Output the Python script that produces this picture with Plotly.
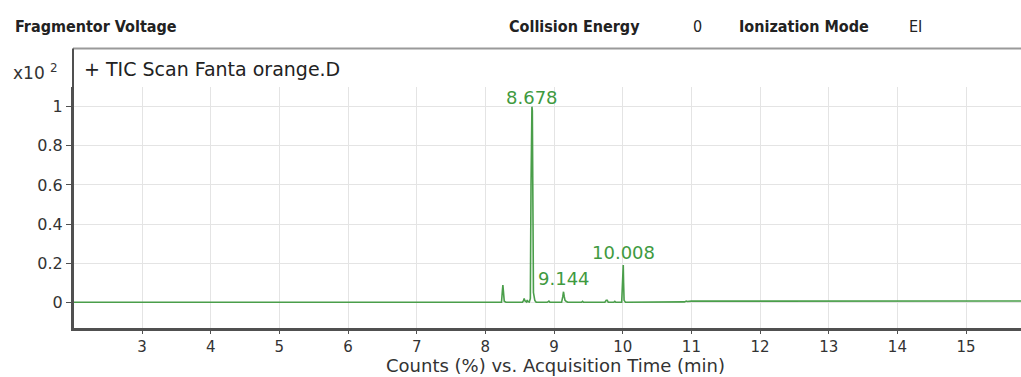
import plotly.graph_objects as go

# Chromatogram (TIC); counts in units of 10^2 (%)
time_min = [2.0, 8.20, 8.235, 8.248, 8.255, 8.262, 8.275, 8.30,
            8.54, 8.555, 8.565, 8.575, 8.60, 8.61, 8.62, 8.64,
            8.655, 8.665, 8.672, 8.678, 8.684, 8.692, 8.70, 8.72, 8.74,
            8.90, 8.915, 8.925, 8.94,
            9.11, 9.128, 9.138, 9.148, 9.16, 9.18, 9.20,
            9.40, 9.415, 9.43, 9.74, 9.76, 9.775, 9.79,
            9.87, 9.885, 9.90, 9.985, 9.998, 10.003, 10.008, 10.013, 10.02, 10.04,
            10.90, 10.925, 10.94, 11.0, 12.0, 15.8]
counts = [0.0, 0.0, 0.0, 0.06, 0.088, 0.06, 0.005, 0.0,
          0.0, 0.008, 0.02, 0.008, 0.002, 0.012, 0.004, 0.002,
          0.02, 0.6, 0.99, 1.0, 0.98, 0.5, 0.05, 0.01, 0.0,
          0.0, 0.006, 0.006, 0.0,
          0.0, 0.03, 0.054, 0.03, 0.01, 0.004, 0.0,
          0.0, 0.005, 0.0, 0.0, 0.01, 0.01, 0.0,
          0.0, 0.005, 0.0, 0.0, 0.1, 0.19, 0.19, 0.1, 0.01, 0.0,
          0.002, 0.006, 0.004, 0.006, 0.007, 0.007]

peak_times = [8.678, 9.144, 10.008]
peak_labels = ["8.678", "9.144", "10.008"]
peak_label_y = [1.045, 0.12, 0.255]

x_ticks = [3, 4, 5, 6, 7, 8, 9, 10, 11, 12, 13, 14, 15]
x_ticktext = [str(v) for v in x_ticks]
y_ticks = [0, 0.2, 0.4, 0.6, 0.8, 1]
y_ticktext = ["0", "0.2", "0.4", "0.6", "0.8", "1"]

GREEN = "#4a9e4a"
LABEL_GREEN = "#3f9a3f"
AXIS = "#505050"
TXT = "#333333"
FONT = "DejaVu Sans"

W, H = 1021, 377
L, R, T, B = 73, 0, 87, 49
pw, ph = W - L - R, H - T - B


def px(x):
    return (x - L) / pw


def py(y):
    return (H - B - y) / ph


fig = go.Figure()
fig.add_trace(go.Scatter(x=time_min, y=counts, mode="lines",
                         line=dict(color=GREEN, width=1.6), hoverinfo="skip",
                         showlegend=False))

for t, lab, ly in zip(peak_times, peak_labels, peak_label_y):
    fig.add_annotation(x=t, y=ly, text=lab, showarrow=False, xref="x", yref="y",
                       font=dict(family=FONT, size=18, color=LABEL_GREEN))

# header texts
hdr_font = dict(family="DejaVu Sans Condensed", size=16, color="#222222")
headers = [(13, "<b>Fragmentor Voltage</b>", "left"),
           (507, "<b>Collision Energy</b>", "left"),
           (697, "0", "center"),
           (737, "<b>Ionization Mode</b>", "left"),
           (907, "EI", "left")]
for hx, htxt, anc in headers:
    fig.add_annotation(x=px(hx), y=py(26), xref="paper", yref="paper", text=htxt,
                       showarrow=False, xanchor=anc, yanchor="middle", font=hdr_font)

fig.add_annotation(x=px(82), y=py(69), xref="paper", yref="paper", showarrow=False,
                   xanchor="left", yanchor="middle", text="+ TIC Scan Fanta orange.D",
                   font=dict(family=FONT, size=19, color="#222222"))
fig.add_annotation(x=px(60), y=py(72), xref="paper", yref="paper", showarrow=False,
                   xanchor="right", yanchor="middle", text="x10 <sup>2</sup>",
                   font=dict(family=FONT, size=17, color=TXT))
fig.add_annotation(x=px(555), y=py(377), xref="paper", yref="paper", showarrow=False,
                   xanchor="center", yanchor="bottom", borderpad=0,
                   text="Counts (%) vs. Acquisition Time (min)",
                   font=dict(family=FONT, size=18, color=TXT))

# box above plot area (title band)
fig.add_shape(type="line", xref="paper", yref="paper", x0=0, x1=1.01,
              y0=py(48.5), y1=py(48.5), line=dict(color="#9a9a9a", width=2))
fig.add_shape(type="line", xref="paper", yref="paper", x0=0, x1=0,
              y0=0, y1=py(48.5), line=dict(color=AXIS, width=2))

fig.update_layout(
    width=W, height=H, margin=dict(l=L, r=R, t=T, b=B),
    paper_bgcolor="white", plot_bgcolor="white",
    font=dict(family=FONT, size=16, color=TXT),
    xaxis=dict(range=[1.995, 15.8], tickvals=x_ticks, ticktext=x_ticktext,
               showgrid=True, gridcolor="#e4e4e4", gridwidth=1,
               showline=True, linecolor=AXIS, linewidth=3,
               ticks="outside", ticklen=3, tickcolor=AXIS, tickwidth=1,
               zeroline=False, tickfont=dict(size=15, color=TXT),
               ticklabelstandoff=0),
    yaxis=dict(range=[-0.1314, 1.1007], tickvals=y_ticks, ticktext=y_ticktext,
               showgrid=True, gridcolor="#e4e4e4", gridwidth=1,
               showline=True, linecolor=AXIS, linewidth=2,
               ticks="outside", ticklen=5, tickcolor=AXIS, tickwidth=1,
               zeroline=False, tickfont=dict(size=16, color=TXT)),
)

fig.write_html("out.html")
